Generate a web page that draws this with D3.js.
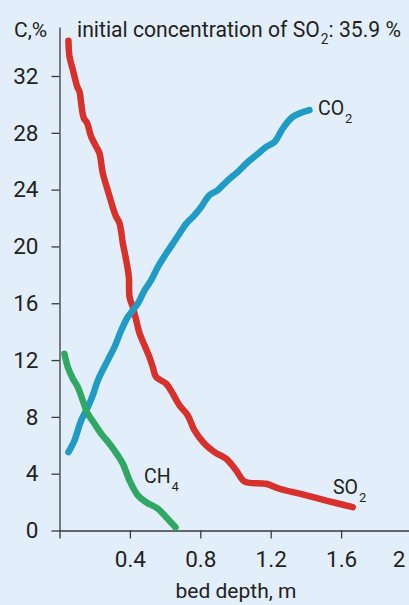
<!DOCTYPE html>
<html>
<head>
<meta charset="utf-8">
<script src="https://cdn.jsdelivr.net/npm/d3@7"></script>
<style>
  html, body { margin: 0; padding: 0; background: #e2eef9; }
  svg { display: block; }
  text { font-family: Roboto, "Liberation Sans", sans-serif; fill: #231f20; }
</style>
</head>
<body>
<svg id="chart" width="409" height="605"></svg>
<script>
// ---- data ----
const xTicks = [0.4, 0.8, 1.2, 1.6, 2];
const yTicks = [0, 4, 8, 12, 16, 20, 24, 28, 32];

const so2Depth = [0.051,0.057,0.076,0.101,0.114,0.123,0.138,0.157,0.180,0.209,0.227,0.246,0.274,0.318,0.341,0.360,0.379,0.394,0.398,0.416,0.436,0.455,0.483,0.511,0.530,0.549,0.606,0.644,0.682,0.729,0.767,0.824,0.881,0.947,1.004,1.051,1.174,1.25,1.364,1.515,1.666];
const so2Conc  = [34.48,33.35,32.42,31.24,30.89,30.1,29.04,28.69,27.72,27.01,26.57,25.16,23.96,22.2,21.63,20.22,19.03,17.85,16.44,15.74,14.8,13.88,13.04,12.21,11.51,10.8,10.34,9.63,8.81,8.1,7.05,6.11,5.52,5.05,4.23,3.45,3.29,2.94,2.59,2.11,1.64];

const co2Depth = [0.051,0.085,0.123,0.161,0.189,0.218,0.274,0.3125,0.351,0.388,0.445,0.483,0.521,0.559,0.606,0.644,0.682,0.720,0.767,0.805,0.852,0.899,0.947,1.013,1.061,1.118,1.174,1.222,1.269,1.326,1.420];
const co2Conc  = [5.52,6.34,7.75,8.69,9.51,10.57,11.98,12.92,14.1,15.03,15.98,16.91,17.62,18.56,19.5,20.2,20.91,21.61,22.2,22.78,23.61,23.96,24.55,25.25,25.84,26.43,27.01,27.36,28.31,29.13,29.6];

const ch4Depth = [0.028,0.047,0.076,0.104,0.132,0.161,0.199,0.237,0.284,0.331,0.360,0.398,0.445,0.493,0.559,0.606,0.659];
const ch4Conc  = [12.45,11.51,10.69,10.1,9.16,8.22,7.52,6.81,6.11,5.29,4.7,3.52,2.47,1.99,1.53,0.94,0.23];

const seriesNames = ["SO", "CO", "CH"];
const seriesSubs = ["2", "2", "4"];
const colors = ["#d8302a", "#1f9bc5", "#2ea862"];

// ---- drawing ----
const svg = d3.select("#chart");
const x = d3.scaleLinear().domain([0, 2]).range([59.5, 411.5]);
const y = d3.scaleLinear().domain([0, 35.45]).range([530.5, 27]);

// axes
const ax = svg.append("g").attr("transform", `translate(0,${y(0)})`)
  .call(d3.axisBottom(x).tickValues([0, ...xTicks]).tickSize(8).tickSizeOuter(0).tickPadding(13)
    .tickFormat(d => d === 0 ? "" : d3.format("")(d)));
const ay = svg.append("g").attr("transform", `translate(${x(0)},0)`)
  .call(d3.axisLeft(y).tickValues(yTicks).tickSize(8).tickSizeOuter(0).tickPadding(13));
[ax, ay].forEach(g => {
  g.selectAll("path.domain, line").attr("stroke", "#3a3a3a").attr("stroke-width", 1.3);
  g.selectAll("text").attr("font-size", 22.5).attr("font-family", "Roboto, sans-serif").attr("fill", "#231f20");
});
ax.select("path.domain").attr("d", `M${x(0)},0.5H409`);
// last x label pulled inside the picture
ax.selectAll(".tick").filter(d => d === 2).select("text").attr("dx", -13);

// lines
const line = d3.line().x(d => x(d[0])).y(d => y(d[1])).curve(d3.curveCatmullRom);
const data = [
  d3.zip(so2Depth, so2Conc),
  d3.zip(co2Depth, co2Conc),
  d3.zip(ch4Depth, ch4Conc)
];
data.forEach((pts, i) => {
  svg.append("path").attr("d", line(pts)).attr("fill", "none")
    .attr("stroke", colors[i]).attr("stroke-width", 6.5)
    .attr("stroke-linecap", "round").attr("stroke-linejoin", "round");
});

// series labels
const labelPos = [[333, 494], [318, 115], [144, 483]];
labelPos.forEach((p, i) => {
  const t = svg.append("text").attr("x", p[0]).attr("y", p[1]).attr("font-size", 19.5);
  t.append("tspan").text(seriesNames[i]);
  t.append("tspan").attr("font-size", 13).attr("dx", 1).attr("dy", 8).text(seriesSubs[i]);
});

// titles
svg.append("text").attr("x", 14).attr("y", 37).attr("font-size", 21).text("C,%");
const tg = svg.append("g");
const title = tg.append("text").attr("x", 0).attr("y", 0).attr("font-size", 21.5);
title.append("tspan").text("initial concentration of SO");
title.append("tspan").attr("font-size", 14).attr("dx", 1).attr("dy", 7).text("2");
title.append("tspan").attr("dy", -7).text(": 35.9 %");
const tw = title.node().getComputedTextLength() || 323;
tg.attr("transform", `translate(77,37) scale(${323 / tw},1)`);

svg.append("text").attr("x", 236).attr("y", 598).attr("text-anchor", "middle")
  .attr("font-size", 21).text("bed depth, m");
</script>
</body>
</html>
